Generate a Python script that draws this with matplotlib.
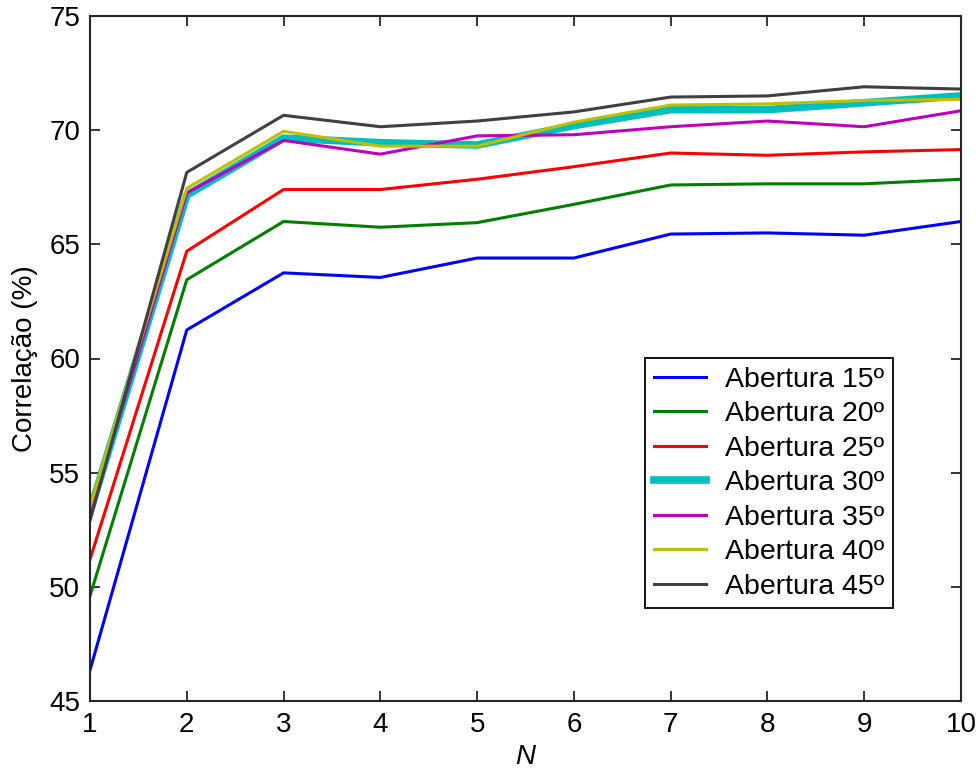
import matplotlib.pyplot as plt
import numpy as np

plt.rcParams['font.family'] = ['Liberation Sans', 'DejaVu Sans']

N = np.arange(1, 11)

# correlation (%) per aperture
abertura_15 = [46.35, 61.25, 63.75, 63.55, 64.4, 64.4, 65.45, 65.5, 65.4, 66.0]
abertura_20 = [49.6, 63.45, 66.0, 65.75, 65.95, 66.75, 67.6, 67.65, 67.65, 67.85]
abertura_25 = [51.2, 64.7, 67.4, 67.4, 67.85, 68.4, 69.0, 68.9, 69.05, 69.15]
abertura_30 = [53.3, 67.15, 69.65, 69.45, 69.35, 70.2, 70.9, 70.9, 71.2, 71.5]
abertura_35 = [53.2, 67.25, 69.55, 68.95, 69.75, 69.8, 70.15, 70.4, 70.15, 70.85]
abertura_40 = [53.5, 67.45, 69.95, 69.3, 69.3, 70.35, 71.1, 71.15, 71.3, 71.35]
abertura_45 = [52.9, 68.15, 70.65, 70.15, 70.4, 70.8, 71.45, 71.5, 71.9, 71.8]

series = [abertura_15, abertura_20, abertura_25, abertura_30,
          abertura_35, abertura_40, abertura_45]
labels = ['Abertura 15º', 'Abertura 20º', 'Abertura 25º', 'Abertura 30º',
          'Abertura 35º', 'Abertura 40º', 'Abertura 45º']
colors = ['#0000ff', '#008000', '#ff0000', '#00bfbf',
          '#bf00bf', '#bfbf00', '#404040']
widths = [2.2, 2.2, 2.2, 5.5, 2.2, 2.2, 2.2]

fig = plt.figure(figsize=(9.76, 7.76), dpi=100)
ax = fig.add_axes([90 / 976, 75 / 776, 871 / 976, 685 / 776])

for vals, lab, col, lw in zip(series, labels, colors, widths):
    ax.plot(N, vals, color=col, linewidth=lw, label=lab)

ax.set_xlim(1, 10)
ax.set_ylim(45, 75)
ax.set_xticks(N)
ax.set_yticks(np.arange(45, 76, 5))
ax.tick_params(direction='in', length=7, width=1.3, labelsize=20,
               top=True, right=True, color='#262626')
ax.tick_params(axis='x', pad=8)
ax.tick_params(axis='y', pad=7)
for sp in ax.spines.values():
    sp.set_linewidth(1.5)
    sp.set_color('#262626')

ax.set_xlabel('N', fontsize=20, fontstyle='italic', labelpad=4)
ax.set_ylabel('Correlação (%)', fontsize=20, labelpad=8)

leg = ax.legend(loc='upper left', bbox_to_anchor=(645 / 976, 1 - 358 / 776),
                bbox_transform=fig.transFigure, fontsize=20.5, fancybox=False,
                framealpha=1, edgecolor='black', handlelength=1.85,
                handletextpad=0.65, labelspacing=0.3, borderpad=0.3,
                borderaxespad=0)
leg.get_frame().set_linewidth(1.3)

fig.savefig('out.png', dpi=100)
